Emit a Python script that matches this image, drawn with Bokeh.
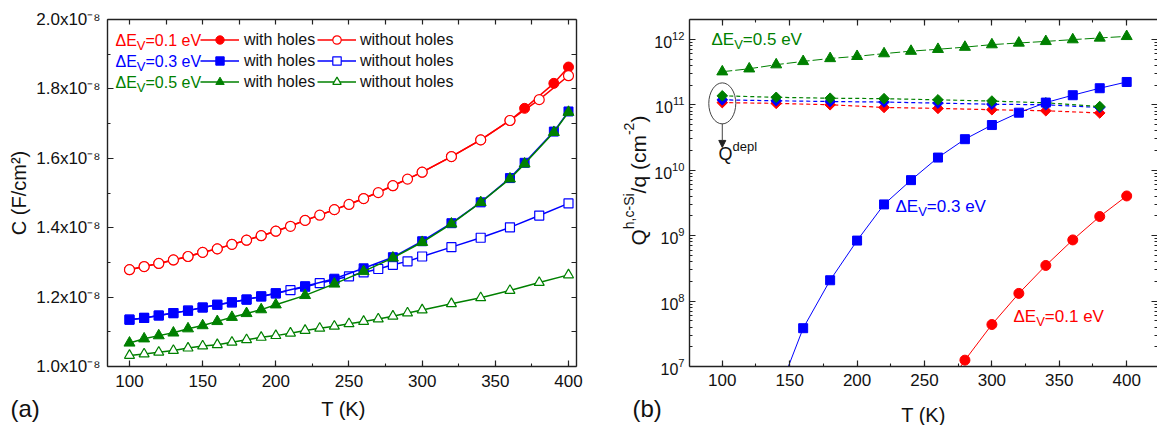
import math
from bokeh.plotting import figure
from bokeh.layouts import row, column
from bokeh.models import (Range1d, LinearAxis, LogAxis, FixedTicker, SingleIntervalTicker,
                          CustomJSTickFormatter, Label, Legend, LegendItem, Arrow, NormalHead)
from bokeh.embed import file_html
from bokeh.resources import INLINE

# ---------------- panel (a): capacitance, in units of 1e-8 F/cm^2 ----------------
T_with = [100, 110, 120, 130, 140, 150, 160, 170, 180, 190, 200,
          220, 240, 260, 280, 300, 320, 340, 360, 370, 390, 400]
T_without = [100, 110, 120, 130, 140, 150, 160, 170, 180, 190, 200, 210,
             220, 230, 240, 250, 260, 270, 280, 290, 300, 320, 340, 360, 380, 400]

C_red_with = [1.279, 1.288, 1.297, 1.307, 1.317, 1.329, 1.339, 1.352, 1.364, 1.377, 1.390,
              1.421, 1.452, 1.484, 1.521, 1.560, 1.605, 1.653, 1.709, 1.744, 1.816, 1.863]
C_red_without = [1.279, 1.288, 1.297, 1.307, 1.317, 1.329, 1.339, 1.352, 1.364, 1.377, 1.390, 1.404,
                 1.421, 1.436, 1.452, 1.467, 1.484, 1.501, 1.521, 1.540, 1.560,
                 1.605, 1.653, 1.709, 1.769, 1.838]
C_blue_with = [1.135, 1.140, 1.147, 1.154, 1.161, 1.170, 1.178, 1.185, 1.193, 1.202, 1.211,
               1.231, 1.253, 1.283, 1.315, 1.361, 1.413, 1.473, 1.543, 1.587, 1.677, 1.735]
C_blue_without = [1.135, 1.140, 1.147, 1.154, 1.161, 1.170, 1.178, 1.185, 1.193, 1.202, 1.211, 1.220,
                  1.230, 1.240, 1.250, 1.260, 1.271, 1.281, 1.293, 1.303, 1.317,
                  1.344, 1.371, 1.401, 1.435, 1.470]
C_green_with = [1.068, 1.080, 1.089, 1.097, 1.109, 1.118, 1.130, 1.142, 1.153, 1.164, 1.178,
                1.205, 1.238, 1.274, 1.313, 1.358, 1.411, 1.473, 1.541, 1.584, 1.675, 1.733]
C_green_without = [1.032, 1.036, 1.041, 1.046, 1.053, 1.059, 1.063, 1.070, 1.077, 1.084, 1.089, 1.096,
                   1.104, 1.110, 1.116, 1.123, 1.130, 1.137, 1.145, 1.154, 1.163,
                   1.181, 1.198, 1.219, 1.242, 1.264]

# ---------------- panel (b): hole charge (cm^-2) ----------------
T_depl = [100, 140, 180, 220, 260, 300, 340, 380]
Q_depl_red = [1.08e11, 1.05e11, 1.00e11, 9.1e10, 8.8e10, 8.4e10, 8.1e10, 7.5e10]
Q_depl_blue = [1.19e11, 1.15e11, 1.12e11, 1.10e11, 1.06e11, 1.02e11, 1.00e11, 9.1e10]
Q_depl_green = [1.37e11, 1.30e11, 1.26e11, 1.24e11, 1.19e11, 1.14e11, 1.07e11, 9.4e10]

T_q05 = [100, 120, 140, 160, 180, 200, 220, 240, 260, 280, 300, 320, 340, 360, 380, 400]
Q_05 = [3.2e11, 3.55e11, 4.1e11, 4.6e11, 5.1e11, 5.5e11, 6.05e11, 6.6e11, 7.05e11, 7.6e11,
        8.3e11, 8.8e11, 9.3e11, 9.9e11, 1.05e12, 1.11e12]
T_q03 = [140, 160, 180, 200, 220, 240, 260, 280, 300, 320, 340, 360, 380, 400]
Q_03 = [3.3e6, 3.85e7, 2.08e8, 8.4e8, 3.0e9, 7.05e9, 1.56e10, 2.98e10, 4.9e10, 7.57e10,
        1.08e11, 1.4e11, 1.79e11, 2.23e11]
T_q01 = [260, 280, 300, 320, 340, 360, 380, 400]
Q_01 = [3.0e6, 1.25e7, 4.38e7, 1.31e8, 3.5e8, 8.6e8, 1.96e9, 4.04e9]

# Q^depl annotation (ellipse around the 100 K points, arrow below it)
DEPL_T = 100
DEPL_CENTER = 1.05e11
DEPL_ARROW = (5.15e10, 2.23e10)

FONT = "Liberation Sans"
RED, BLUE, GREEN = "#FF0000", "#0000FF", "#008000"
AX = "#222222"
TXT = "#111111"

W_EM = {' ': .278, '(': .333, ')': .333, ',': .278, '-': .333, '.': .278, '/': .278, '=': .584,
        'Δ': .668, 'E': .667, 'V': .667, 'Q': .778, 'S': .667, 'T': .611, 'K': .667,
        'a': .556, 'b': .556, 'c': .5, 'd': .556, 'e': .556, 'h': .556, 'i': .222, 'l': .222,
        'm': .833, 'p': .556, 'q': .556, 'v': .5}


def tw(s, size):
    return sum(W_EM.get(ch, .556) for ch in s) * size


def rich(p, fl, fb, px, py, parts, color, rotate=False):
    """Place a text made of pieces (text, size, rise); px, py = page coords of the start of
    the text's middle line; fl, fb = page coords of the left / bottom edge of the frame."""
    pos = 0.0
    for txt, size, rise in parts:
        if rotate:
            sx, sy = px - fl - rise, fb - py + pos
        else:
            sx, sy = px - fl + pos, fb - py + rise
        p.add_layout(Label(x=sx, y=sy, x_units="screen", y_units="screen", text=txt,
                           text_font=FONT, text_font_size=f"{size}px", text_color=color,
                           text_baseline="middle", text_align="left",
                           angle=(math.pi / 2 if rotate else 0.0)))
        pos += tw(txt, size)


def style_axis(ax, show_labels=True, tin=6, mtin=3):
    ax.axis_line_color = AX
    ax.axis_line_width = 1.4
    ax.major_tick_line_color = AX
    ax.minor_tick_line_color = AX
    ax.major_tick_line_width = 1.2
    ax.minor_tick_line_width = 1.1
    ax.major_tick_in = tin
    ax.major_tick_out = 0
    ax.minor_tick_in = mtin
    ax.minor_tick_out = 0
    ax.major_label_text_font = FONT
    ax.major_label_text_font_size = "17px"
    ax.major_label_text_color = TXT
    ax.axis_label_text_font = FONT
    ax.axis_label_text_font_size = "20px"
    ax.axis_label_text_font_style = "normal"
    ax.axis_label_text_color = TXT
    if not show_labels:
        ax.formatter = CustomJSTickFormatter(code="return ''")
        ax.major_label_text_font_size = "0px"
        ax.major_label_standoff = 0


def blank(width, height):
    f = figure(width=width, height=height, x_range=Range1d(0, 1), y_range=Range1d(0, 1),
               x_axis_location=None, y_axis_location=None, output_backend="svg",
               toolbar_location=None, min_border=0, title=None)
    f.outline_line_color = None
    f.xgrid.visible = False
    f.ygrid.visible = False
    f.background_fill_color = "white"
    f.border_fill_color = "white"
    return f


H = 395          # plot row (page y 0 .. 395)
H_STRIP = 30     # bottom strip with x titles and panel letters (page y 395 .. 425)

# ============================ panel (a) ============================
W1 = 600
p1 = figure(width=W1, height=H, x_range=Range1d(84.97, 405.47), y_range=Range1d(1.0, 2.0),
            output_backend="svg", toolbar_location=None, title=None,
            min_border_left=107, min_border_right=24, min_border_top=19, min_border_bottom=29)
p1.outline_line_color = None
p1.xgrid.visible = False
p1.ygrid.visible = False
p1.background_fill_color = "white"
p1.border_fill_color = "white"

xa = p1.xaxis[0]
xa.ticker = SingleIntervalTicker(interval=50, num_minor_ticks=2)
style_axis(xa)
xa.major_label_standoff = 8

ya = p1.yaxis[0]
ya.ticker = SingleIntervalTicker(interval=0.2, num_minor_ticks=2)
style_axis(ya)
ya.formatter = CustomJSTickFormatter(code="return tick.toFixed(1) + 'x10\u207b\u2078';")
ya.axis_label = "C (F/cm\u00b2)"
ya.major_label_standoff = 7
ya.axis_label_standoff = 3

top1 = LinearAxis(ticker=SingleIntervalTicker(interval=25, num_minor_ticks=0))
style_axis(top1, show_labels=False, tin=5)
p1.add_layout(top1, "above")
right1 = LinearAxis(ticker=SingleIntervalTicker(interval=0.1, num_minor_ticks=0))
style_axis(right1, show_labels=False, tin=5)
p1.add_layout(right1, "right")

LW = 1.5
r_rw_l = p1.line(T_with, C_red_with, line_color=RED, line_width=LW)
r_rw_m = p1.scatter(T_with, C_red_with, marker="circle", size=10, fill_color=RED, line_color=RED)
r_ro_l = p1.line(T_without, C_red_without, line_color=RED, line_width=LW)
r_ro_m = p1.scatter(T_without, C_red_without, marker="circle", size=10, fill_color="white",
                    line_color=RED, line_width=1.2)
r_bo_l = p1.line(T_without, C_blue_without, line_color=BLUE, line_width=LW)
r_bo_m = p1.scatter(T_without, C_blue_without, marker="square", size=9, fill_color="white",
                    line_color=BLUE, line_width=1.2)
r_bw_l = p1.line(T_with, C_blue_with, line_color=BLUE, line_width=LW)
r_bw_m = p1.scatter(T_with, C_blue_with, marker="square", size=9, fill_color=BLUE, line_color=BLUE)
r_go_l = p1.line(T_without, C_green_without, line_color=GREEN, line_width=LW)
r_go_m = p1.scatter(T_without, C_green_without, marker="triangle", size=10, fill_color="white",
                    line_color=GREEN, line_width=1.2)
r_gw_l = p1.line(T_with, C_green_with, line_color=GREEN, line_width=LW)
r_gw_m = p1.scatter(T_with, C_green_with, marker="triangle", size=11, fill_color=GREEN,
                    line_color=GREEN)

leg_kw = dict(glyph_width=39, glyph_height=21, label_height=21, spacing=0, padding=0, margin=0,
              border_line_color=None, background_fill_alpha=0, label_text_font=FONT,
              label_text_font_size="16px", label_text_color=TXT)
leg_with = Legend(items=[LegendItem(label="with holes", renderers=[r_rw_l, r_rw_m]),
                         LegendItem(label="with holes", renderers=[r_bw_l, r_bw_m]),
                         LegendItem(label="with holes", renderers=[r_gw_l, r_gw_m])],
                  location=(93, 273.8), label_standoff=5, **leg_kw)
leg_without = Legend(items=[LegendItem(label="without holes", renderers=[r_ro_l, r_ro_m]),
                            LegendItem(label="without holes", renderers=[r_bo_l, r_bo_m]),
                            LegendItem(label="without holes", renderers=[r_go_l, r_go_m])],
                     location=(210, 273.8), label_standoff=4, **leg_kw)
p1.add_layout(leg_with)
p1.add_layout(leg_without)

FL1, FB1 = 107, 366
for txt, col, mid in [("=0.1 eV", RED, 39.5), ("=0.3 eV", BLUE, 60.5), ("=0.5 eV", GREEN, 81.5)]:
    rich(p1, FL1, FB1, 115, mid, [("ΔE", 16, 0), ("V", 13, -5), (txt, 16, 0)], col)

# ============== y title of panel (b), in its own narrow strip ==============
WQ = 51                       # page x 600 .. 651
pq = blank(WQ, H)
rich(pq, 600, H, 638, 274, [("Q", 21, 0), ("h,c-Si", 14, 10), ("/q (cm", 21, 0),
                            ("-2", 14, 10), (")", 21, 0)], TXT, rotate=True)

# ============================ panel (b) ============================
W2 = 1157 - W1 - WQ           # page x 651 .. 1157
p2 = figure(width=W2, height=H, x_range=Range1d(75.68, 422.85), y_range=Range1d(1e7, 2.01e12),
            y_axis_type="log", output_backend="svg", toolbar_location=None, title=None,
            min_border_left=35, min_border_right=0, min_border_top=18, min_border_bottom=27)
p2.outline_line_color = None
p2.xgrid.visible = False
p2.ygrid.visible = False
p2.background_fill_color = "white"
p2.border_fill_color = "white"

decades = [10.0 ** e for e in range(7, 13)]
minors = [k * 10.0 ** e for e in range(6, 13) for k in range(2, 10)]

xb = p2.xaxis[0]
xb.ticker = SingleIntervalTicker(interval=50, num_minor_ticks=2)
style_axis(xb)
xb.major_label_standoff = 7

yb = p2.yaxis[0]
yb.ticker = FixedTicker(ticks=decades, minor_ticks=minors)
style_axis(yb)
yb.major_label_text_font_size = "16px"
yb.major_label_standoff = 5

top2 = LinearAxis(ticker=SingleIntervalTicker(interval=50, num_minor_ticks=2))
style_axis(top2, show_labels=False)
p2.add_layout(top2, "above")
right2 = LogAxis(ticker=FixedTicker(ticks=decades, minor_ticks=minors))
style_axis(right2, show_labels=False)
right2.axis_line_color = None
p2.add_layout(right2, "right")

for q, col in [(Q_depl_red, RED), (Q_depl_blue, BLUE), (Q_depl_green, GREEN)]:
    p2.line(T_depl, q, line_color=col, line_width=1.2, line_dash="4 3")
    p2.scatter(T_depl, q, marker="square", angle=math.pi / 4, size=7.5,
               fill_color=col, line_color=col)

p2.line(T_q05, Q_05, line_color=GREEN, line_width=1, line_dash="10 3")
p2.scatter(T_q05, Q_05, marker="triangle", size=11, fill_color=GREEN, line_color=GREEN)
p2.line(T_q03, Q_03, line_color=BLUE, line_width=1)
p2.scatter(T_q03, Q_03, marker="square", size=9, fill_color=BLUE, line_color=BLUE)
p2.line(T_q01, Q_01, line_color=RED, line_width=1)
p2.scatter(T_q01, Q_01, marker="circle", size=10, fill_color=RED, line_color=RED)

p2.ellipse(x=[DEPL_T], y=[DEPL_CENTER], width=27, height=41, width_units="screen",
           height_units="screen", fill_color=None, line_color="#444444", line_width=1)
p2.add_layout(Arrow(end=NormalHead(size=7, fill_color="#222222", line_color="#222222"),
                    x_start=DEPL_T, y_start=DEPL_ARROW[0], x_end=DEPL_T, y_end=DEPL_ARROW[1],
                    line_color="#444444", line_width=1))

FL2, FB2 = 686, 368
rich(p2, FL2, FB2, 708, 40.5, [("ΔE", 17, 0), ("V", 13, -5), ("=0.5 eV", 17, 0)], GREEN)
rich(p2, FL2, FB2, 892, 207.5, [("ΔE", 17, 0), ("V", 13, -5), ("=0.3 eV", 17, 0)], BLUE)
rich(p2, FL2, FB2, 1010, 317.5, [("ΔE", 17, 0), ("V", 13, -5), ("=0.1 eV", 17, 0)], RED)
rich(p2, FL2, FB2, 715, 155.5, [("Q", 18, 0), ("depl", 13, 8)], TXT)

# ============== bottom strip: x titles and panel letters ==============
strip = blank(1157, H_STRIP)   # page y 395 .. 425
SL, SB = 0, 425
rich(strip, SL, SB, 10, 408, [("(a)", 24, 0)], TXT)
rich(strip, SL, SB, 343 - tw("T (K)", 20) / 2, 408.5, [("T (K)", 20, 0)], TXT)
rich(strip, SL, SB, 632, 408, [("(b)", 24, 0)], TXT)
rich(strip, SL, SB, 923 - tw("T (K)", 20) / 2, 414, [("T (K)", 20, 0)], TXT)

layout = column(row(p1, pq, p2), strip)
open("out.html", "w").write(file_html(layout, INLINE))
